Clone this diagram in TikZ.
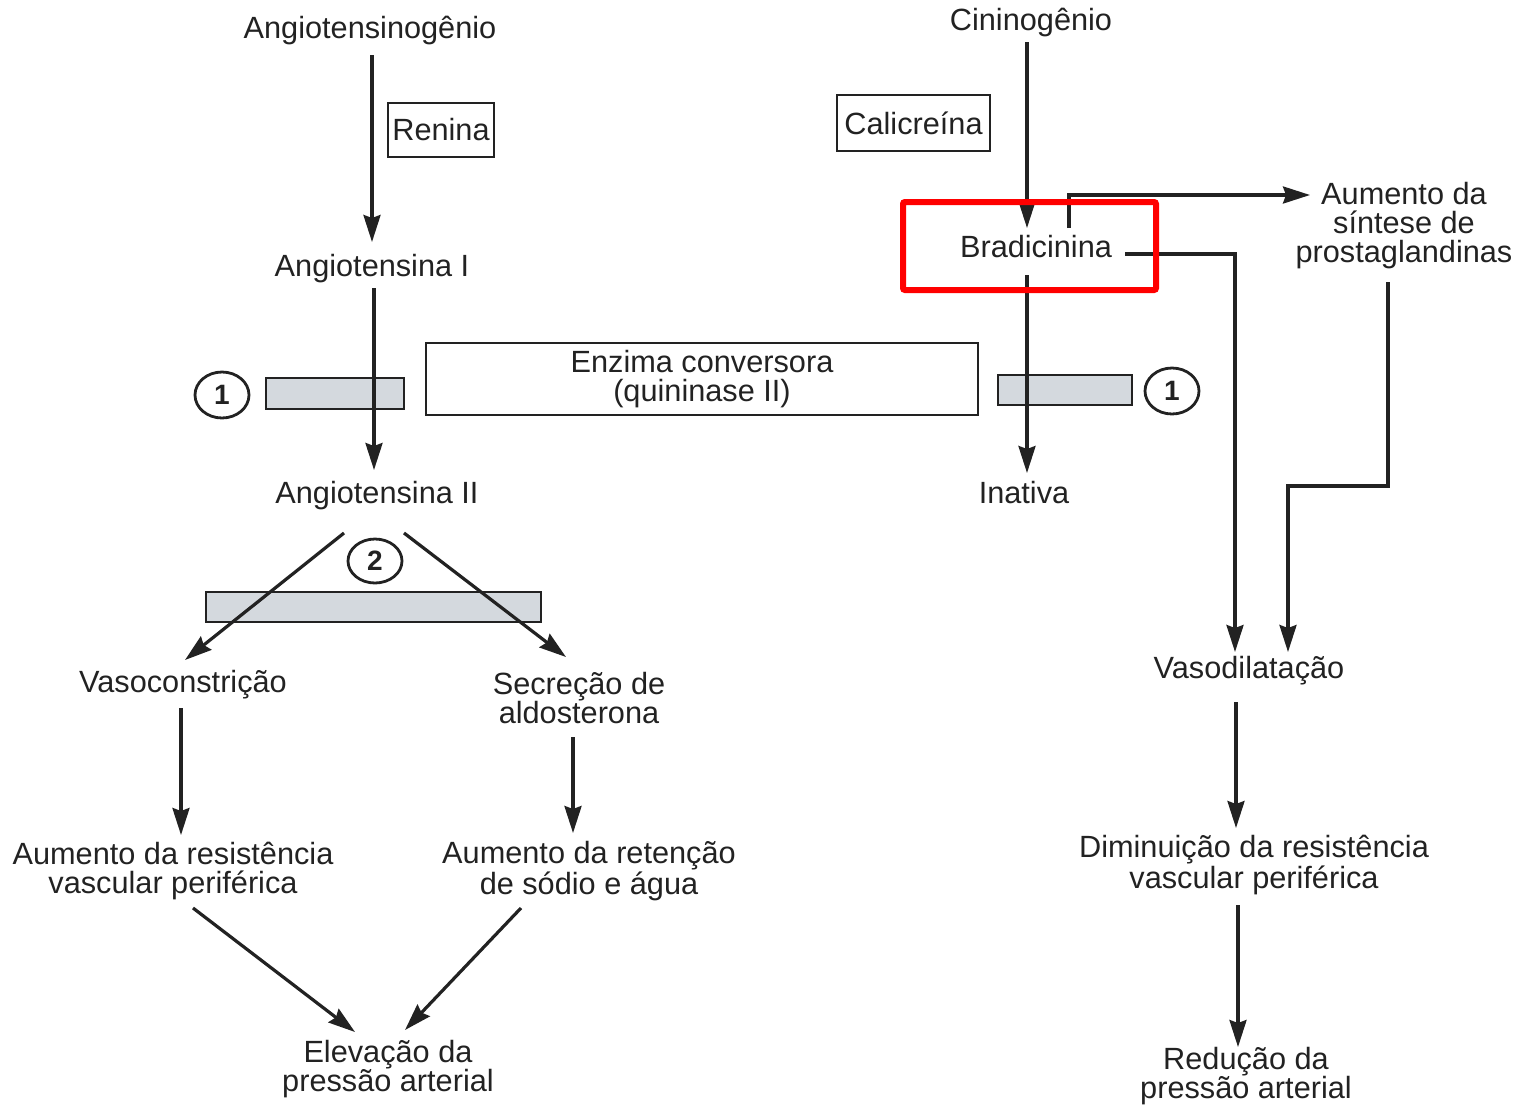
\documentclass[tikz,border=0pt]{standalone}
\usepackage{fontspec}
\setmainfont{Liberation Sans}
\usetikzlibrary{arrows.meta,calc,shapes.geometric}
\definecolor{ink}{HTML}{222222}
\definecolor{barfill}{HTML}{D4D9DE}
\begin{document}
\begin{tikzpicture}[x=0.5pt,y=-0.5pt,
 every node/.style={font=\fontsize{15.35}{14.5}\selectfont, text=ink},
 lbl/.style={inner sep=0pt, text height=11.5pt, text depth=3.2pt},
 mlbl/.style={inner sep=0pt, align=center},
 arr/.style={draw=ink, line width=1.6pt, -{Stealth[length=13.5pt,width=8.5pt,inset=1.5pt]}},
 boxed/.style={draw=ink, line width=1.4pt, inner sep=0pt},
 bar/.style={draw=ink, line width=1.4pt, fill=barfill, inner sep=0pt},
 num/.style={draw=ink, line width=1.4pt, ellipse, inner sep=0pt, minimum width=27pt, minimum height=23pt, font=\fontsize{14}{15}\selectfont\bfseries}
]
\path[use as bounding box] (0,0) rectangle (1520,1104);

% left side
\node[lbl] (ang0) at (370,30) {Angiotensinogênio};
\node[boxed, minimum width=53pt, minimum height=27pt] (ren) at (441,130) {Renina};
\node[lbl] (ang1) at (372,268) {Angiotensina I};
\node[bar, minimum width=69pt, minimum height=15.5pt] (bar1) at (335,393.5) {};
\node[num] (n1a) at (222,395) {1};
\node[boxed, minimum width=276pt, minimum height=36pt, align=center] (enz) at (702,379) {Enzima conversora\\(quininase II)};
\node[bar, minimum width=67pt, minimum height=15pt] (bar1b) at (1065,390) {};
\node[num] (n1b) at (1172,391) {1};
\node[lbl] (ang2) at (377,495) {Angiotensina II};
\node[num, minimum height=22pt] (n2) at (375,561) {2};
\node[bar, minimum width=167.5pt, minimum height=15pt] (bar2) at (373.5,607) {};
\node[lbl] (vaso) at (183,684) {Vasoconstrição};
\node[mlbl] (secr) at (579,698) {Secreção de\\aldosterona};
\node[mlbl] (arv) at (173,871) {Aumento da resistência\\vascular periférica};
\node[mlbl] (arr) at (589,871) {Aumento da retenção\\de sódio e água};
\node[mlbl] (elev) at (388,1069) {Elevação da\\pressão arterial};

% right side
\node[lbl] (cin) at (1031,22) {Cininogênio};
\node[boxed, minimum width=76.5pt, minimum height=28pt] (cal) at (913.5,123) {Calicreína};
\node[lbl] (brad) at (1036,249) {Bradicinina};
\node[mlbl] (prost) at (1404,226) {Aumento da\\síntese de\\prostaglandinas};
\node[lbl] (inat) at (1024,495) {Inativa};
\node[lbl] (vasod) at (1249,670) {Vasodilatação};
\node[mlbl] (dim) at (1254,865) {Diminuição da resistência\\vascular periférica};
\node[mlbl] (red) at (1246,1076) {Redução da\\pressão arterial};

% connectors left
\draw[arr] ($(ang0)+(2,25)$) -- ($(ang1)+(0,-26)$);
\draw[arr] ($(ang1)+(2,20)$) -- ($(ang2)+(-3,-25)$);
\draw[arr] ($(ang2)+(-33,38)$) -- ($(vaso)+(2,-24)$);
\draw[arr] ($(ang2)+(27,38)$) -- ($(secr)+(-13,-41)$);
\draw[arr] ($(vaso)+(-2,24)$) -- ($(arv)+(8,-36)$);
\draw[arr] ($(secr)+(-6,39)$) -- ($(arr)+(-16,-38)$);
\draw[arr] ($(arv)+(20,37)$) -- ($(elev)+(-33,-37)$);
\draw[arr] ($(arr)+(-68,37)$) -- ($(elev)+(17,-39)$);

% connectors right
\draw[arr] ($(cin)+(-4,20)$) -- ($(brad)+(-9,-21)$);
\draw[arr] ($(brad)+(33,-21)$) |- ($(prost)+(-94,-31)$);
\draw[arr] ($(brad)+(89,5)$) -| ($(vasod)+(-14,-18)$);
\draw[arr] ($(prost)+(-16,56)$) -- ($(prost)+(-16,260)$) -| ($(vasod)+(39,-18)$);
\draw[arr] ($(brad)+(-9,26)$) -- ($(inat)+(3,-22)$);
\draw[arr] ($(vasod)+(-13,32)$) -- ($(dim)+(-18,-37)$);
\draw[arr] ($(dim)+(-16,40)$) -- ($(red)+(-8,-29)$);

% highlight
\node[draw=red, line width=3pt, minimum width=126.5pt, minimum height=44pt, inner sep=0pt, rounded corners=1pt] (hl) at (1029.5,246) {};
\end{tikzpicture}
\end{document}
